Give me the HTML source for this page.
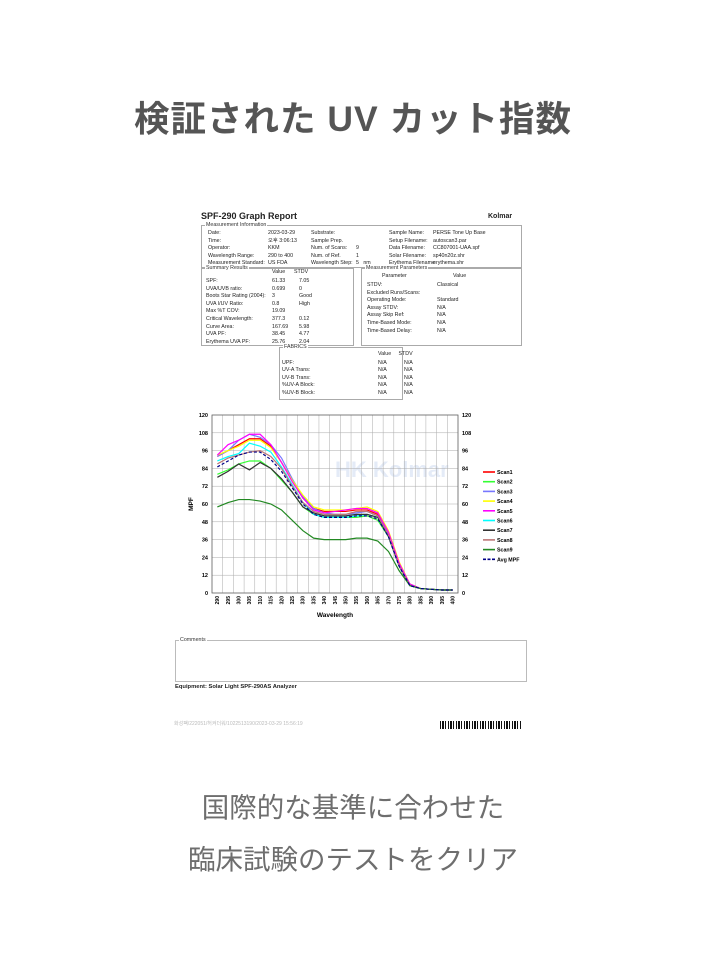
<!DOCTYPE html>
<html><head><meta charset="utf-8">
<style>
body{margin:0;background:#fff;width:706px;height:972px;position:relative;overflow:hidden;font-family:"Liberation Sans","Noto Sans CJK JP",sans-serif}
.a{position:absolute;white-space:nowrap;font-size:5.3px;color:#222;line-height:1}
.box{position:absolute;border:1px solid #aaa}
.lg{position:absolute;top:-4px;left:3px;background:#fff;font-size:5.3px;color:#333;padding:0 1px}
</style></head><body>
<div class="a" style="left:0;width:706px;text-align:center;top:102px;font-size:35.5px;font-weight:bold;color:#555;letter-spacing:1px">検証された UV カット指数</div>

<div class="a" style="left:201px;top:212px;font-size:9px;font-weight:bold">SPF-290 Graph Report</div>
<div class="a" style="left:488px;top:213px;font-size:7px;font-weight:bold">Kolmar</div>

<div class="box" style="left:201px;top:225px;width:319px;height:41px">
<span class="lg">Measurement Information</span></div>
<div class="a" style="left:208px;top:230px;line-height:7.6px">Date:<br>Time:<br>Operator:<br>Wavelength Range:<br>Measurement Standard:</div>
<div class="a" style="left:268px;top:230px;line-height:7.6px">2023-03-29<br>오후 3:06:13<br>KKM<br>290 to 400<br>US FDA</div>
<div class="a" style="left:311px;top:230px;line-height:7.6px">Substrate:<br>Sample Prep.<br>Num. of Scans:<br>Num. of Ref.<br>Wavelength Step:</div>
<div class="a" style="left:356px;top:230px;line-height:7.6px"><br><br>9<br>1<br>5 &nbsp; nm</div>
<div class="a" style="left:389px;top:230px;line-height:7.6px">Sample Name:<br>Setup Filename:<br>Data Filename:<br>Solar Filename:<br>Erythema Filename</div>
<div class="a" style="left:433px;top:230px;line-height:7.6px">PERSE Tone Up Base<br>autoscan3.par<br>CC807001-UAA.spf<br>sp40n20z.shr<br>erythema.shr</div>

<div class="box" style="left:201px;top:268px;width:151px;height:76px"><span class="lg">Summary Results</span></div>
<div class="a" style="left:272px;top:270px">Value &nbsp;&nbsp;&nbsp;&nbsp; STDV</div>
<div class="a" style="left:206px;top:278px;line-height:7.6px">SPF:<br>UVA/UVB ratio:<br>Boots Star Rating (2004):<br>UVA I/UV Ratio:<br>Max %T COV:<br>Critical Wavelength:<br>Curve Area:<br>UVA PF:<br>Erythema UVA PF:</div>
<div class="a" style="left:272px;top:278px;line-height:7.6px">61.33<br>0.699<br>3<br>0.8<br>19.09<br>377.3<br>167.69<br>38.45<br>25.76</div>
<div class="a" style="left:299px;top:278px;line-height:7.6px">7.05<br>0<br>Good<br>High<br><br>0.12<br>5.98<br>4.77<br>2.04</div>

<div class="box" style="left:361px;top:268px;width:159px;height:76px"><span class="lg">Measurement Parameters</span></div>
<div class="a" style="left:382px;top:274px">Parameter</div>
<div class="a" style="left:453px;top:274px">Value</div>
<div class="a" style="left:367px;top:282px;line-height:7.6px">STDV:<br>Excluded Runs/Scans:<br>Operating Mode:<br>Assay STDV:<br>Assay Skip Ref:<br>Time-Based Mode:<br>Time-Based Delay:</div>
<div class="a" style="left:437px;top:282px;line-height:7.6px">Classical<br><br>Standard<br>N/A<br>N/A<br>N/A<br>N/A</div>

<div class="box" style="left:279px;top:347px;width:122px;height:51px"><span class="lg">FABRICS</span></div>
<div class="a" style="left:378px;top:352px">Value &nbsp;&nbsp;&nbsp; STDV</div>
<div class="a" style="left:282px;top:360px;line-height:7.4px">UPF:<br>UV-A Trans:<br>UV-B Trans:<br>%UV-A Block:<br>%UV-B Block:</div>
<div class="a" style="left:378px;top:360px;line-height:7.4px">N/A<br>N/A<br>N/A<br>N/A<br>N/A</div>
<div class="a" style="left:404px;top:360px;line-height:7.4px">N/A<br>N/A<br>N/A<br>N/A<br>N/A</div>

<svg id="chart" style="position:absolute;left:185px;top:405px" width="340" height="220"></svg>

<div class="box" style="left:175px;top:640px;width:350px;height:40px;border-color:#bbb"><span class="lg">Comments</span></div>
<div class="a" style="left:175px;top:685px;font-weight:bold;font-size:5.8px">Equipment: Solar Light SPF-290AS Analyzer</div>
<div class="a" style="left:174px;top:722px;color:#bbb;font-size:5px">화성팩/222051/허켜더워/1022513190/2023-03-29 15:56:19</div>
<div style="position:absolute;left:440px;top:721px;width:82px;height:8px;background:repeating-linear-gradient(90deg,#111 0 1px,#fff 1px 2px,#111 2px 4px,#fff 4px 5px,#111 5px 6px,#fff 6px 8px)"></div>

<div class="a" style="left:0;width:706px;text-align:center;top:794px;font-size:27.5px;color:#6e6e6e">国際的な基準に合わせた</div>
<div class="a" style="left:0;width:706px;text-align:center;top:846px;font-size:27.5px;color:#6e6e6e">臨床試験のテストをクリア</div>

<script>
const wavelengths=[290,295,300,305,310,315,320,325,330,335,340,345,350,355,360,365,370,375,380,385,390,395,400];
const yTicks=[0,12,24,36,48,60,72,84,96,108,120];
const seriesNames=["Scan1","Scan2","Scan3","Scan4","Scan5","Scan6","Scan7","Scan8","Scan9","Avg MPF"];
const seriesColors=["#f00","#3f3","#77f","#ff0","#f0f","#0ff","#333","#b77","#282","#008"];
const scan1=[92,96,100,104,104,99,88,76,64,57,55,55,55,56,56,53,41,20,6,3,2.5,2,2];
const scan2=[80,83,87,89,89,84,76,68,58,53,51,51,51,51,52,49,38,18,5,3,2.5,2,2];
const scan3=[92,96,103,107,105,100,91,77,65,57,54,53,53,54,55,52,40,19,6,3,2.5,2,2];
const scan4=[93,96,99,103,103,98,88,76,66,58,56,56,56,57,58,55,42,21,6,3,2.5,2,2];
const scan5=[93,100,103,107,107,100,88,75,64,56,54,55,56,57,57,54,41,20,6,3,2.5,2,2];
const scan6=[89,92,94,101,99,95,85,73,61,53,51,51,51,52,53,51,38,18,5,3,2.5,2,2];
const scan7=[78,82,87,83,88,84,77,68,58,54,52,52,52,53,53,51,38,18,5,3,2.5,2,2];
const scan8=[87,91,93,95,96,92,84,72,61,55,53,53,53,55,55,52,39,18,5,3,2.5,2,2];
const scan9=[58,61,63,63,62,60,56,49,42,37,36,36,36,37,37,35,28,15,5,3,2.5,2,2];
const avgMpf=[85,89,93,95,95,90,82,71,60,53,51,51,51,52,52,50,38,18,5,3,2.5,2,2];
const allSeries=[scan1,scan2,scan3,scan4,scan5,scan6,scan7,scan8,scan9,avgMpf];

const svg=document.getElementById('chart');
const NS='http://www.w3.org/2000/svg';
const X0=27,X1=273,Y0=188,Y1=10;
const colW=(X1-X0)/wavelengths.length;
const xs=i=>X0+colW*(i+0.5);
const ys=v=>Y0-(v/120)*(Y0-Y1);
function mk(t,a,txt){const e=document.createElementNS(NS,t);for(const k in a)e.setAttribute(k,a[k]);if(txt!==undefined)e.textContent=txt;svg.appendChild(e);return e;}

const wm=mk('text',{x:150,y:72,'font-size':22,fill:'#e4ebf7','font-weight':'bold'},'HK Kolmar');


for(let i=0;i<=wavelengths.length;i++){
  const g=mk('line',{x1:X0+colW*i,x2:X0+colW*i,y1:Y1,y2:Y0,stroke:'#aaa','stroke-width':0.5});
  
  
}
yTicks.forEach(t=>{
  const g=mk('line',{x1:X0,x2:X1,y1:ys(t),y2:ys(t),stroke:'#aaa','stroke-width':0.5});
  
  
  const l=mk('text',{x:X0-4,y:ys(t)+2,'font-size':5.5,'font-weight':'bold','text-anchor':'end'},t);
  
  
  const r=mk('text',{x:X1+4,y:ys(t)+2,'font-size':5.5,'font-weight':'bold'},t);
  
  
});
mk('rect',{x:X0,y:Y1,width:X1-X0,height:Y0-Y1,fill:'none',stroke:'#666','stroke-width':0.8});
wavelengths.forEach((w,i)=>{
  const t=mk('text',{x:0,y:0,'font-size':5,'font-weight':'bold','text-anchor':'end',transform:`translate(${xs(i)+1.8},${Y0+3}) rotate(-90)`},w);
  
  
});
const xt=mk('text',{x:(X0+X1)/2,y:212,'font-size':6.5,'font-weight':'bold','text-anchor':'middle'},'Wavelength');


const yt=mk('text',{x:0,y:0,'font-size':6.5,'font-weight':'bold','text-anchor':'middle',transform:`translate(8,${(Y0+Y1)/2}) rotate(-90)`},'MPF');



allSeries.forEach((s,k)=>{
  const p=mk('polyline',{points:s.map((v,i)=>xs(i)+','+ys(v)).join(' '),fill:'none',stroke:seriesColors[k],'stroke-width':1.2,'stroke-dasharray':k===9?'3,2':'none'});
  
  
  const ly=67+k*9.7;
  const ll=mk('line',{x1:298,x2:310,y1:ly,y2:ly,stroke:seriesColors[k],'stroke-width':1.6,'stroke-dasharray':k===9?'3,1.5':'none'});
  
  
  const lt=mk('text',{x:312,y:ly+2,'font-size':5.3,'font-weight':'bold'},seriesNames[k]);
  
  
});
</script>
</body></html>
